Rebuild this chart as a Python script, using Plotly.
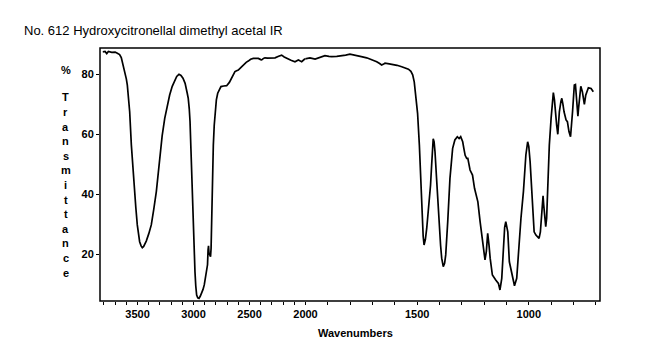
import plotly.graph_objects as go

title_text = "No. 612 Hydroxycitronellal dimethyl acetal IR"
x_title = "Wavenumbers"
y_title_chars = ["%", "T", "r", "a", "n", "s", "m", "i", "t", "t", "a", "n", "c", "e"]

wavenumber = [
    3810, 3790, 3775, 3760, 3730, 3700, 3680, 3660, 3645, 3630, 3614, 3600, 3591, 3580, 3570,
    3555, 3543, 3531, 3515, 3502, 3490, 3481, 3468, 3457, 3445, 3435, 3422, 3400, 3377, 3355,
    3332, 3315, 3302, 3280, 3257, 3235, 3213, 3190, 3168, 3150, 3130, 3112, 3094, 3075, 3056,
    3047, 3038, 3031, 3023, 3016, 3009, 3002, 2994, 2987, 2980, 2972, 2962, 2951, 2940, 2927,
    2915, 2904, 2893, 2882, 2875, 2870, 2866, 2862, 2855, 2848, 2843, 2838, 2830, 2823, 2815,
    2808, 2796, 2784, 2770, 2755, 2730, 2704, 2680, 2659, 2645, 2630, 2615, 2600, 2578, 2555,
    2530, 2511, 2490, 2466, 2440, 2421, 2400, 2391, 2375, 2362, 2340, 2317, 2290, 2272, 2240,
    2213, 2190, 2168, 2130, 2094, 2075, 2064, 2050, 2034, 2010, 1980, 1957, 1935, 1913, 1895,
    1883, 1860, 1838, 1820, 1801, 1785, 1771, 1750, 1726, 1700, 1681, 1668, 1659, 1650, 1644,
    1625, 1607, 1590, 1569, 1550, 1539, 1528, 1520, 1513, 1505, 1498, 1490, 1484, 1478, 1473,
    1469, 1463, 1457, 1446, 1440, 1435, 1430, 1428, 1424, 1420, 1413, 1407, 1401, 1395, 1390,
    1383, 1377, 1372, 1363, 1353, 1341, 1331, 1320, 1312, 1305, 1296, 1290, 1285, 1278, 1273,
    1263, 1252, 1243, 1235, 1228, 1218, 1208, 1200, 1196, 1190, 1184, 1178, 1173, 1163, 1155,
    1148, 1136, 1129, 1121, 1114, 1108, 1103, 1098, 1094, 1087, 1076, 1064, 1054, 1048, 1043,
    1035, 1024, 1013, 1005, 1000, 994, 988, 982, 976, 968, 960, 954, 948, 939, 936,
    933, 924, 920, 917, 912, 908, 900, 894, 890, 885, 881, 875, 870, 863, 856,
    852, 847, 842, 833, 827, 820, 813, 804, 796, 791, 785, 780, 777, 771, 767,
    760, 751, 745, 733, 721, 711,
]
transmittance = [
    87.5, 87.6, 86.9, 87.6, 87.3, 87.4, 87.0, 86.6, 85.6, 83.5, 80.9, 78.5, 76.4, 72.5, 67.5,
    56.4, 49.5, 43.1, 35.5, 29.8, 26.0, 24.2, 22.8, 22.2, 22.6, 23.4, 24.4, 26.8, 29.8, 35.0,
    40.9, 47.0, 52.0, 59.5, 65.3, 69.8, 73.1, 76.0, 78.1, 79.3, 80.0, 79.6, 78.7, 77.0, 73.7,
    72.0, 68.5, 64.2, 55.0, 45.3, 36.0, 27.5, 20.0, 14.2, 9.5, 6.4, 5.5, 5.3, 6.0, 7.0,
    8.3, 9.8, 12.0, 14.2, 16.5, 21.5, 22.8, 20.5, 19.8, 19.2, 22.0, 34.2, 46.0, 56.4, 63.0,
    67.5, 71.5, 73.7, 75.0, 75.9, 76.1, 76.2, 77.3, 78.7, 80.0, 80.9, 81.2, 81.4, 82.2, 83.1,
    84.0, 84.4, 85.0, 85.3, 85.4, 85.3, 84.9, 84.8, 85.3, 85.5, 85.4, 85.5, 85.4, 85.5, 86.0,
    86.4, 85.8, 85.3, 84.7, 84.2, 84.6, 84.8, 84.5, 84.2, 85.0, 85.5, 85.1, 85.7, 86.2, 86.0,
    85.9, 86.0, 86.1, 86.4, 86.7, 86.5, 86.2, 85.9, 85.5, 84.8, 84.2, 83.6, 83.1, 83.4, 83.7,
    83.5, 83.3, 83.0, 82.5, 82.1, 81.7, 81.0, 79.8, 77.5, 72.0, 67.0, 56.4, 43.1, 32.0, 26.0,
    23.1, 25.0, 28.7, 37.5, 43.0, 49.8, 56.0, 58.5, 57.5, 54.2, 45.3, 37.0, 29.8, 23.0, 18.7,
    15.9, 17.0, 19.8, 30.9, 45.3, 55.3, 58.1, 59.2, 58.6, 59.2, 57.5, 55.0, 53.0, 52.0, 52.0,
    48.1, 46.4, 42.0, 40.0, 37.5, 30.9, 24.2, 19.5, 18.1, 21.0, 27.0, 23.0, 18.7, 13.1, 12.0,
    11.4, 10.3, 8.1, 12.0, 23.1, 29.0, 30.9, 29.5, 27.5, 17.5, 13.1, 9.5, 12.0, 19.0, 26.4,
    32.0, 40.9, 53.1, 57.5, 56.0, 50.9, 42.0, 32.0, 27.5, 26.4, 25.8, 25.3, 27.5, 38.7, 39.5,
    36.4, 29.2, 32.0, 39.8, 48.0, 56.4, 65.3, 71.0, 73.9, 71.5, 67.5, 63.0, 60.0, 67.5, 71.0,
    72.0, 70.0, 67.5, 64.8, 64.2, 60.9, 59.2, 67.5, 76.4, 76.6, 72.0, 66.0, 68.7, 73.0, 76.0,
    74.2, 70.0, 73.0, 75.5, 75.3, 74.2,
]

x_ticks_high = list(range(3800, 1999, -100))
x_ticks_low = list(range(1900, 699, -100))
x_labeled = [3500, 3000, 2500, 2000, 1500, 1000]
y_ticks = [20, 40, 60, 80]

# page body margin (8px) offsets the figure inside the window
OFF = 8
W, H = 650 - OFF, 364 - OFF
ML, MR, MT, MB = 100 - OFF, 50, 48 - OFF, 63
split = 0.411

fig = go.Figure()
line_style = dict(color="black", width=1.7)
fig.add_trace(go.Scatter(x=wavenumber, y=transmittance, mode="lines", line=line_style,
                         xaxis="x", yaxis="y", showlegend=False, hoverinfo="skip"))
fig.add_trace(go.Scatter(x=wavenumber, y=transmittance, mode="lines", line=line_style,
                         xaxis="x2", yaxis="y", showlegend=False, hoverinfo="skip"))

tickfont = dict(family="Liberation Sans, Arial, sans-serif", size=11, color="black", weight="bold")

def tt(vals):
    return [str(v) if v in x_labeled else "" for v in vals]

common_x = dict(showgrid=False, zeroline=False, showline=False, ticks="outside",
                ticklen=3, tickwidth=1, tickcolor="black", tickfont=tickfont, tickmode="array")
fig.update_layout(
    width=W, height=H,
    margin=dict(l=ML, r=MR, t=MT, b=MB),
    paper_bgcolor="white", plot_bgcolor="white",
    xaxis=dict(domain=[0, split], range=[3835, 2000], tickvals=x_ticks_high,
               ticktext=tt(x_ticks_high), anchor="y", **common_x),
    xaxis2=dict(domain=[split, 1], range=[2000, 681], tickvals=x_ticks_low,
                ticktext=tt(x_ticks_low), anchor="y", **common_x),
    yaxis=dict(range=[4.43, 88.77], tickvals=y_ticks, ticktext=[str(v) for v in y_ticks],
               showgrid=False, zeroline=False, showline=False, ticks="outside",
               ticklen=3, tickcolor="black", tickfont=tickfont),
    shapes=[dict(type="rect", xref="paper", yref="paper", x0=0, x1=1, y0=0, y1=1,
                 line=dict(color="black", width=1.5))],
)

pw, ph = W - ML - MR, H - MT - MB
def px(xp):
    return (xp - OFF - ML) / pw
def py(yp):
    return (H - MB - (yp - OFF)) / ph

ann = [
    dict(text=title_text, x=px(22), y=py(30.5), xref="paper", yref="paper",
         xanchor="left", yanchor="middle", showarrow=False,
         font=dict(family="Liberation Sans, Arial, sans-serif", size=13, color="black")),
    dict(text=x_title, x=px(355), y=py(333), xref="paper", yref="paper",
         xanchor="center", yanchor="middle", showarrow=False,
         font=dict(family="Liberation Sans, Arial, sans-serif", size=11, color="black", weight="bold")),
]
ypos = [70] + [97.3 + 14.6 * i for i in range(len(y_title_chars) - 1)]
for ch, yp in zip(y_title_chars, ypos):
    ann.append(dict(text=ch, x=px(65.7), y=py(yp), xref="paper", yref="paper",
                    xanchor="center", yanchor="middle", showarrow=False,
                    font=dict(family="Liberation Sans, Arial, sans-serif", size=11,
                              color="black", weight="bold")))
fig.update_layout(annotations=ann)

fig.write_html("out.html")
